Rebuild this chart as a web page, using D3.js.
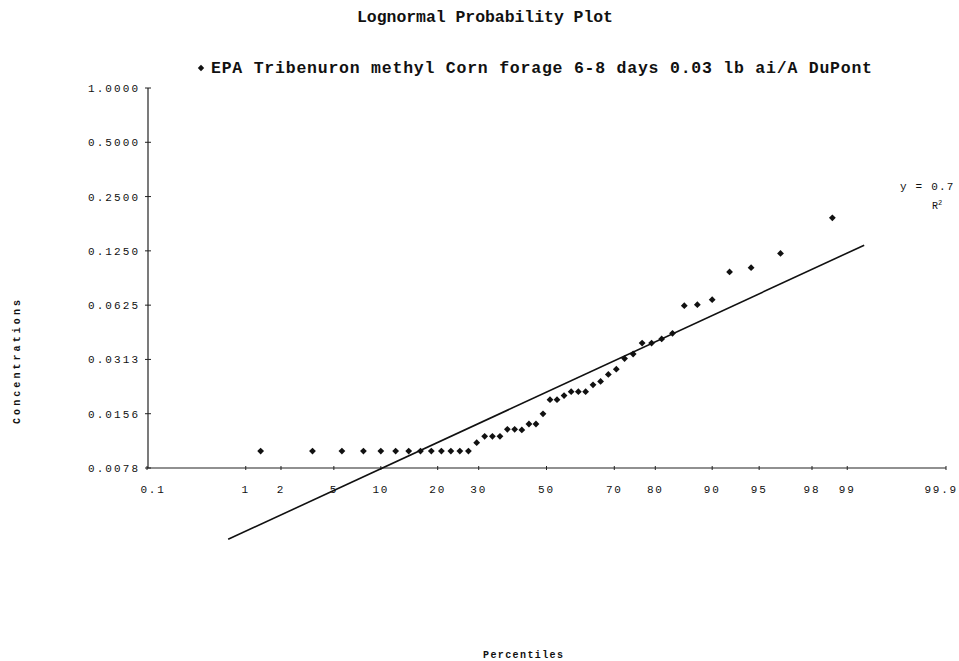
<!DOCTYPE html>
<html>
<head>
<meta charset="utf-8">
<script src="https://cdn.jsdelivr.net/npm/d3@7"></script>
<style>
  html, body { margin: 0; padding: 0; background: #fff; }
  svg { display: block; }
  text { font-family: "Liberation Mono", "Courier New", "DejaVu Sans Mono", monospace; fill: #111; }
</style>
</head>
<body>
<svg id="chart" width="959" height="661"></svg>
<script>
// Residue concentrations (ppm), sorted ascending
const concentrations = [
  0.0097, 0.0097, 0.0097, 0.0097, 0.0097, 0.0097, 0.0097, 0.0097, 0.0097, 0.0097,
  0.0097, 0.0097, 0.0097, 0.0108, 0.0117, 0.0117, 0.0117, 0.0128, 0.0128, 0.0127,
  0.0137, 0.0137, 0.0156, 0.0187, 0.0187, 0.0197, 0.0207, 0.0207, 0.0207, 0.0226,
  0.0236, 0.0258, 0.0276, 0.0316, 0.0335, 0.0385, 0.0385, 0.0406, 0.0436, 0.0621,
  0.0629, 0.0670, 0.0955, 0.1008, 0.1210, 0.1907
];

// Plotting positions (percent) for the sorted samples
const percentiles = [
  1.351, 3.514, 5.676, 7.838, 10.000, 12.162, 14.324, 16.486, 18.649, 20.811,
  22.973, 25.135, 27.297, 29.459, 31.622, 33.784, 35.946, 38.108, 40.270, 42.432,
  44.595, 46.757, 48.919, 51.081, 53.243, 55.405, 57.568, 59.730, 61.892, 64.054,
  66.216, 68.378, 70.541, 72.703, 74.865, 77.027, 79.189, 81.351, 83.514, 85.676,
  87.838, 90.000, 92.162, 94.324, 96.486, 98.649
];

// Axis ticks
const yTickValues = [1/128, 1/64, 1/32, 1/16, 1/8, 1/4, 1/2, 1];
const yTickLabels = ["0.0078", "0.0156", "0.0313", "0.0625", "0.1250", "0.2500", "0.5000", "1.0000"];
const xTickValues = [0.1, 1, 2, 5, 10, 20, 30, 50, 70, 80, 90, 95, 98, 99, 99.9];
const xTickLabels = ["0.1", "1", "2", "5", "10", "20", "30", "50", "70", "80", "90", "95", "98", "99", "99.9"];

// Percent range covered by the fitted trend line
const trendRange = [0.69, 99.3];

const seriesName = "EPA Tribenuron methyl Corn forage 6-8 days 0.03 lb ai/A DuPont";

// Inverse standard normal CDF (Acklam's rational approximation)
function probit(p) {
  const a = [-3.969683028665376e+01, 2.209460984245205e+02, -2.759285104469687e+02,
             1.383577518672690e+02, -3.066479806614716e+01, 2.506628277459239e+00];
  const b = [-5.447609879822406e+01, 1.615858368580409e+02, -1.556989798598866e+02,
             6.680131188771972e+01, -1.328068155288572e+01];
  const c = [-7.784894002430293e-03, -3.223964580411365e-01, -2.400758277161838e+00,
             -2.549732539343734e+00, 4.374664141464968e+00, 2.938163982698783e+00];
  const d = [7.784695709041462e-03, 3.224671290700398e-01, 2.445134137142996e+00,
             3.754408661907416e+00];
  const pl = 0.02425, ph = 1 - pl;
  let q, r;
  if (p < pl) {
    q = Math.sqrt(-2 * Math.log(p));
    return (((((c[0]*q+c[1])*q+c[2])*q+c[3])*q+c[4])*q+c[5]) /
           ((((d[0]*q+d[1])*q+d[2])*q+d[3])*q+1);
  }
  if (p <= ph) {
    q = p - 0.5; r = q * q;
    return (((((a[0]*r+a[1])*r+a[2])*r+a[3])*r+a[4])*r+a[5])*q /
           (((((b[0]*r+b[1])*r+b[2])*r+b[3])*r+b[4])*r+1);
  }
  q = Math.sqrt(-2 * Math.log(1 - p));
  return -(((((c[0]*q+c[1])*q+c[2])*q+c[3])*q+c[4])*q+c[5]) /
          ((((d[0]*q+d[1])*q+d[2])*q+d[3])*q+1);
}

// Square diamond marker of half-width r
const diamond = r => `M0,${-r}L${r},0L0,${r}L${-r},0Z`;

const svg = d3.select("#chart");

const plot = { left: 147, right: 946, top: 88, bottom: 468 };

// Normal-probability x scale: percent -> z -> pixels
const zScale = d3.scaleLinear()
  .domain([probit(0.001), probit(0.999)])
  .range([plot.left, plot.right]);
const x = pct => zScale(probit(pct / 100));

const y = d3.scaleLog().base(2)
  .domain([1/128, 1])
  .range([plot.bottom, plot.top]);

// Least-squares fit of ln(concentration) on z
const zs = percentiles.map(p => probit(p / 100));
const ls = concentrations.map(v => Math.log(v));
const zMean = d3.mean(zs), lMean = d3.mean(ls);
const slope = d3.sum(zs, (z, i) => (z - zMean) * (ls[i] - lMean)) /
              d3.sum(zs, z => (z - zMean) * (z - zMean));
const intercept = lMean - slope * zMean;
const fitAt = pct => Math.exp(intercept + slope * probit(pct / 100));

// Title
svg.append("text")
  .attr("x", 485).attr("y", 22)
  .attr("text-anchor", "middle")
  .attr("font-size", 16.5).attr("font-weight", "bold")
  .attr("textLength", 256).attr("lengthAdjust", "spacing")
  .text("Lognormal Probability Plot");

// Legend
svg.append("path")
  .attr("d", diamond(3.2))
  .attr("transform", "translate(201,68)")
  .attr("fill", "#111");
svg.append("text")
  .attr("x", 211).attr("y", 73)
  .attr("font-size", 16.5).attr("font-weight", "bold")
  .attr("textLength", 661).attr("lengthAdjust", "spacing")
  .text(seriesName);

// Y axis
const yAxis = svg.append("g");
yAxis.append("line")
  .attr("x1", plot.left + 1).attr("x2", plot.left + 1)
  .attr("y1", plot.top).attr("y2", plot.bottom)
  .attr("stroke", "#222").attr("stroke-width", 1.2);
yAxis.selectAll("line.tick").data(yTickValues).join("line")
  .attr("class", "tick")
  .attr("x1", plot.left - 2).attr("x2", plot.left + 4)
  .attr("y1", d => y(d)).attr("y2", d => y(d))
  .attr("stroke", "#222").attr("stroke-width", 1);
yAxis.selectAll("text").data(yTickValues).join("text")
  .attr("x", 138).attr("y", d => y(d) + 4)
  .attr("text-anchor", "end")
  .attr("font-size", 11)
  .attr("textLength", 50).attr("lengthAdjust", "spacing")
  .text((d, i) => yTickLabels[i]);

// X axis
const xAxis = svg.append("g");
xAxis.append("line")
  .attr("x1", plot.left).attr("x2", plot.right)
  .attr("y1", plot.bottom).attr("y2", plot.bottom)
  .attr("stroke", "#222").attr("stroke-width", 1.2);
xAxis.selectAll("line.tick").data(xTickValues).join("line")
  .attr("class", "tick")
  .attr("x1", d => x(d)).attr("x2", d => x(d))
  .attr("y1", plot.bottom - 2).attr("y2", plot.bottom + 2)
  .attr("stroke", "#222").attr("stroke-width", 1);
const lastTick = xTickValues.length - 1;
xAxis.selectAll("text").data(xTickValues).join("text")
  .attr("x", (d, i) => i === 0 ? x(d) + 6 : (i === lastTick ? 958 : x(d)))
  .attr("y", 493)
  .attr("text-anchor", (d, i) => i === lastTick ? "end" : "middle")
  .attr("font-size", 11)
  .attr("letter-spacing", 1.8)
  .text((d, i) => xTickLabels[i]);

// Axis titles
svg.append("text")
  .attr("transform", "translate(20,362) rotate(-90)")
  .attr("text-anchor", "middle")
  .attr("font-size", 10).attr("font-weight", "bold")
  .attr("textLength", 124).attr("lengthAdjust", "spacing")
  .text("Concentrations");
svg.append("text")
  .attr("x", 523).attr("y", 658)
  .attr("text-anchor", "middle")
  .attr("font-size", 10).attr("font-weight", "bold")
  .attr("textLength", 80).attr("lengthAdjust", "spacing")
  .text("Percentiles");

// Fitted trend line
svg.append("line")
  .attr("x1", x(trendRange[0])).attr("y1", y(fitAt(trendRange[0])))
  .attr("x2", x(trendRange[1])).attr("y2", y(fitAt(trendRange[1])))
  .attr("stroke", "#111").attr("stroke-width", 1.6);

// Trend equation
svg.append("text")
  .attr("x", 900).attr("y", 190)
  .attr("font-size", 11)
  .attr("letter-spacing", 1.2)
  .text("y = 0.7");
const r2 = svg.append("text")
  .attr("x", 932).attr("y", 209)
  .attr("font-size", 10)
  .attr("font-family", "'Liberation Serif', serif")
  .text("R");
r2.append("tspan").attr("dy", -4).attr("font-size", 7).text("2");

// Sample points
svg.append("g").selectAll("path").data(concentrations).join("path")
  .attr("d", diamond(3.4))
  .attr("transform", (d, i) => `translate(${x(percentiles[i])},${y(d)})`)
  .attr("fill", "#111");
</script>
</body>
</html>
